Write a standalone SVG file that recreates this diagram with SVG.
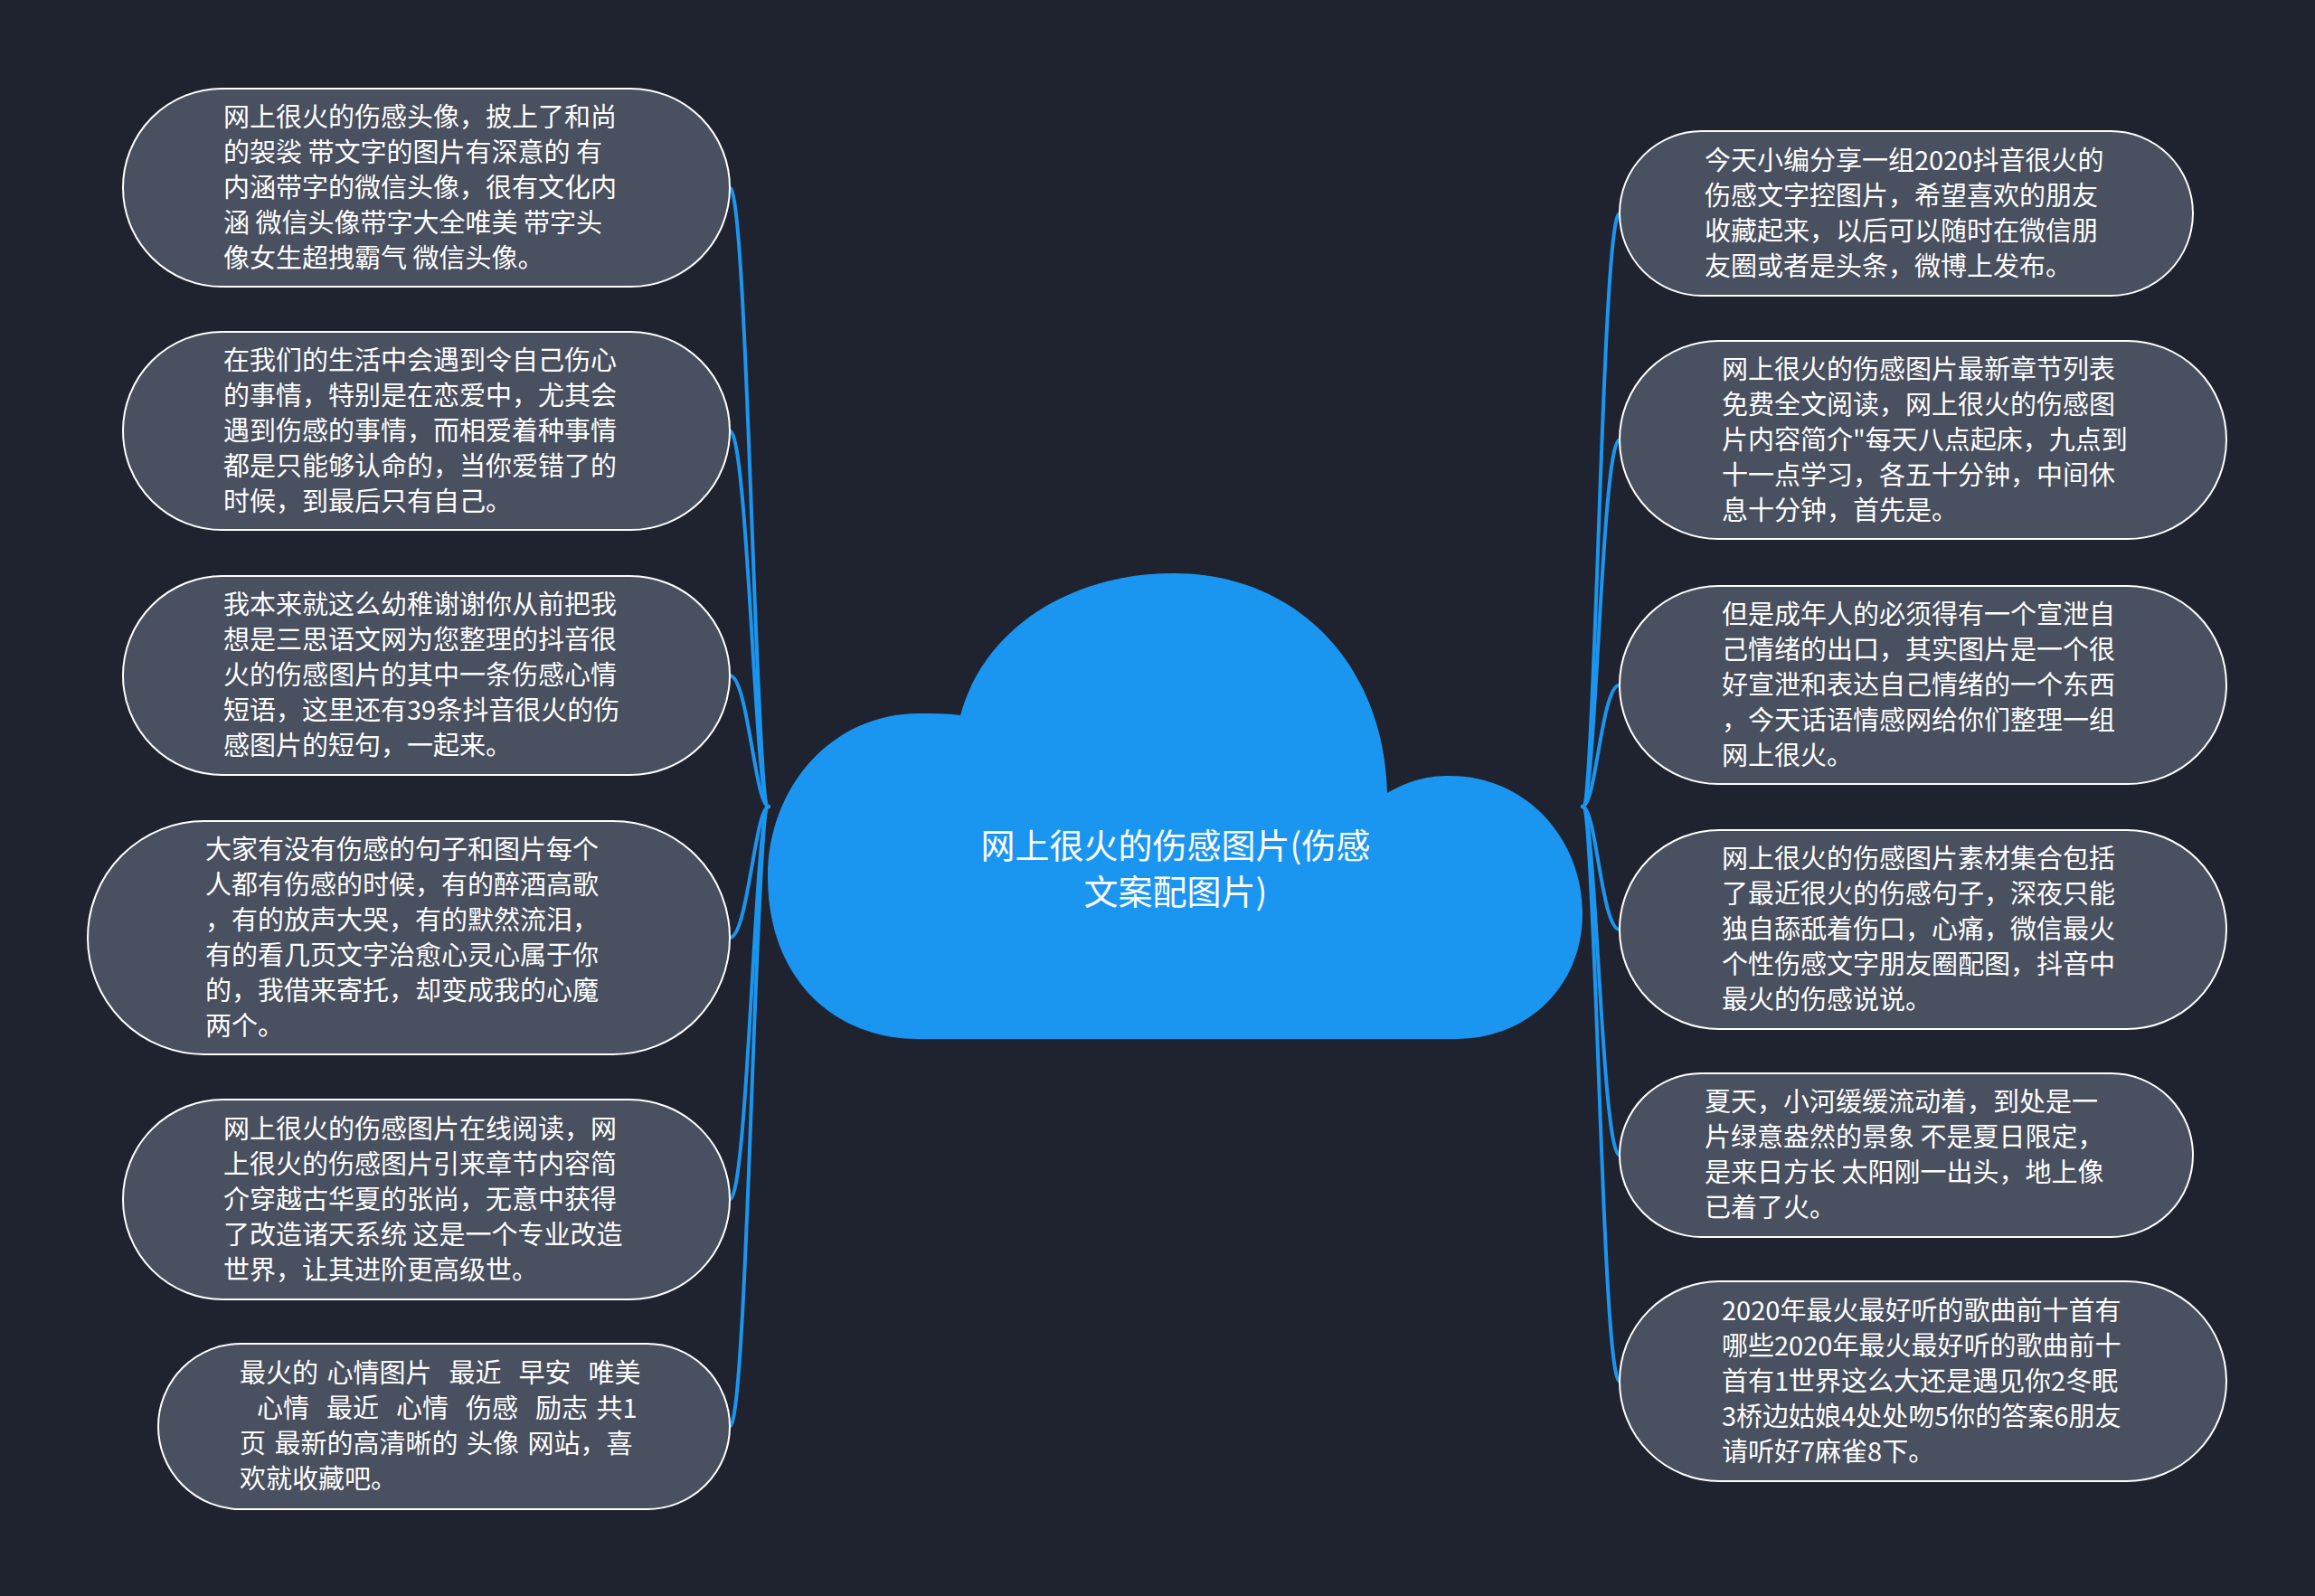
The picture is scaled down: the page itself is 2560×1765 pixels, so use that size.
<svg xmlns="http://www.w3.org/2000/svg" width="2560" height="1765" viewBox="0 0 2560 1765">
<style>
.bg{fill:#1f2330}
.node rect{fill:#495060;stroke:#ffffff;stroke-width:2}
.node text{fill:#ffffff;font-family:"Noto Sans CJK SC","Noto Sans",sans-serif;font-size:29px;white-space:pre}
.conn path{fill:none;stroke:#1b95ee;stroke-width:4;stroke-linecap:round}
.cloud path{fill:#1a96f0}
.cloud text{fill:#ffffff;font-family:"Noto Sans CJK SC","Noto Sans",sans-serif;font-size:38px;text-anchor:middle}
</style>
<rect class="bg" x="0" y="0" width="2560" height="1765"/>
<g id="connectors" class="conn">
<path d="M807 207.5 C827 207.5,835 892,850 892"/>
<path d="M807 476.5 C827 476.5,835 892,850 892"/>
<path d="M807 747 C827 747,835 892,850 892"/>
<path d="M807 1037 C827 1037,835 892,850 892"/>
<path d="M807 1326.5 C827 1326.5,835 892,850 892"/>
<path d="M807 1577.5 C827 1577.5,835 892,850 892"/>
<path d="M1750 892 C1765 892,1771 236,1791 236"/>
<path d="M1750 892 C1765 892,1771 486.5,1791 486.5"/>
<path d="M1750 892 C1765 892,1771 757.5,1791 757.5"/>
<path d="M1750 892 C1765 892,1771 1028,1791 1028"/>
<path d="M1750 892 C1765 892,1771 1277.5,1791 1277.5"/>
<path d="M1750 892 C1765 892,1771 1527.5,1791 1527.5"/>
</g>
<g id="center" class="cloud">
<path d="M1062 791 C1090 690,1190 634,1298 634 C1430 634,1530 730,1534 877 C1560 862,1580 858,1603 858 C1690 858,1750 930,1750 1010 C1750 1090,1690 1149,1610 1149 L1016 1149 C920 1149,849 1080,849 970 C849 870,920 789,1016 789 C1032 789,1048 789,1062 791 Z"/>
<text><tspan x="1300" y="949">网上很火的伤感图片(伤感</tspan><tspan x="1300" y="1000">文案配图片)</tspan></text>
</g>
<g id="L1" class="node">
<rect x="136" y="98" width="671" height="219" rx="109.5"/>
<text><tspan x="247" y="139.5">网上很火的伤感头像，披上了和尚</tspan><tspan x="247" y="178.5">的袈裟 带文字的图片有深意的 有</tspan><tspan x="247" y="217.5">内涵带字的微信头像，很有文化内</tspan><tspan x="247" y="256.5">涵 微信头像带字大全唯美 带字头</tspan><tspan x="247" y="295.5">像女生超拽霸气 微信头像。</tspan></text>
</g>
<g id="L2" class="node">
<rect x="136" y="367" width="671" height="219" rx="109.5"/>
<text><tspan x="247" y="408.5">在我们的生活中会遇到令自己伤心</tspan><tspan x="247" y="447.5">的事情，特别是在恋爱中，尤其会</tspan><tspan x="247" y="486.5">遇到伤感的事情，而相爱着种事情</tspan><tspan x="247" y="525.5">都是只能够认命的，当你爱错了的</tspan><tspan x="247" y="564.5">时候，到最后只有自己。</tspan></text>
</g>
<g id="L3" class="node">
<rect x="136" y="637" width="671" height="220" rx="110"/>
<text><tspan x="247" y="679">我本来就这么幼稚谢谢你从前把我</tspan><tspan x="247" y="718">想是三思语文网为您整理的抖音很</tspan><tspan x="247" y="757">火的伤感图片的其中一条伤感心情</tspan><tspan x="247" y="796">短语，这里还有39条抖音很火的伤</tspan><tspan x="247" y="835">感图片的短句，一起来。</tspan></text>
</g>
<g id="L4" class="node">
<rect x="97" y="908" width="710" height="258" rx="129"/>
<text><tspan x="227" y="949.5">大家有没有伤感的句子和图片每个</tspan><tspan x="227" y="988.5">人都有伤感的时候，有的醉酒高歌</tspan><tspan x="227" y="1027.5">，有的放声大哭，有的默然流泪，</tspan><tspan x="227" y="1066.5">有的看几页文字治愈心灵心属于你</tspan><tspan x="227" y="1105.5">的，我借来寄托，却变成我的心魔</tspan><tspan x="227" y="1144.5">两个。</tspan></text>
</g>
<g id="L5" class="node">
<rect x="136" y="1216" width="671" height="221" rx="110.5"/>
<text><tspan x="247" y="1258.5">网上很火的伤感图片在线阅读，网</tspan><tspan x="247" y="1297.5">上很火的伤感图片引来章节内容简</tspan><tspan x="247" y="1336.5">介穿越古华夏的张尚，无意中获得</tspan><tspan x="247" y="1375.5">了改造诸天系统 这是一个专业改造</tspan><tspan x="247" y="1414.5">世界，让其进阶更高级世。</tspan></text>
</g>
<g id="L6" class="node">
<rect x="175" y="1486" width="632" height="183" rx="91.5"/>
<text style="word-spacing:3px"><tspan x="265" y="1529">最火的 心情图片  最近  早安  唯美</tspan><tspan x="265" y="1568">  心情  最近  心情  伤感  励志 共1</tspan><tspan x="265" y="1607">页 最新的高清晰的 头像 网站，喜</tspan><tspan x="265" y="1646">欢就收藏吧。</tspan></text>
</g>
<g id="R1" class="node">
<rect x="1791" y="145" width="634" height="182" rx="91"/>
<text><tspan x="1885" y="187.5">今天小编分享一组2020抖音很火的</tspan><tspan x="1885" y="226.5">伤感文字控图片，希望喜欢的朋友</tspan><tspan x="1885" y="265.5">收藏起来，以后可以随时在微信朋</tspan><tspan x="1885" y="304.5">友圈或者是头条，微博上发布。</tspan></text>
</g>
<g id="R2" class="node">
<rect x="1791" y="377" width="671" height="219" rx="109.5"/>
<text><tspan x="1904" y="418.5">网上很火的伤感图片最新章节列表</tspan><tspan x="1904" y="457.5">免费全文阅读，网上很火的伤感图</tspan><tspan x="1904" y="496.5">片内容简介"每天八点起床，九点到</tspan><tspan x="1904" y="535.5">十一点学习，各五十分钟，中间休</tspan><tspan x="1904" y="574.5">息十分钟，首先是。</tspan></text>
</g>
<g id="R3" class="node">
<rect x="1791" y="648" width="671" height="219" rx="109.5"/>
<text><tspan x="1904" y="689.5">但是成年人的必须得有一个宣泄自</tspan><tspan x="1904" y="728.5">己情绪的出口，其实图片是一个很</tspan><tspan x="1904" y="767.5">好宣泄和表达自己情绪的一个东西</tspan><tspan x="1904" y="806.5">，今天话语情感网给你们整理一组</tspan><tspan x="1904" y="845.5">网上很火。</tspan></text>
</g>
<g id="R4" class="node">
<rect x="1791" y="918" width="671" height="220" rx="110"/>
<text><tspan x="1904" y="960">网上很火的伤感图片素材集合包括</tspan><tspan x="1904" y="999">了最近很火的伤感句子，深夜只能</tspan><tspan x="1904" y="1038">独自舔舐着伤口，心痛，微信最火</tspan><tspan x="1904" y="1077">个性伤感文字朋友圈配图，抖音中</tspan><tspan x="1904" y="1116">最火的伤感说说。</tspan></text>
</g>
<g id="R5" class="node">
<rect x="1791" y="1187" width="634" height="181" rx="90.5"/>
<text><tspan x="1885" y="1229">夏天，小河缓缓流动着，到处是一</tspan><tspan x="1885" y="1268">片绿意盎然的景象 不是夏日限定，</tspan><tspan x="1885" y="1307">是来日方长 太阳刚一出头，地上像</tspan><tspan x="1885" y="1346">已着了火。</tspan></text>
</g>
<g id="R6" class="node">
<rect x="1791" y="1417" width="671" height="221" rx="110.5"/>
<text><tspan x="1904" y="1459.5">2020年最火最好听的歌曲前十首有</tspan><tspan x="1904" y="1498.5">哪些2020年最火最好听的歌曲前十</tspan><tspan x="1904" y="1537.5">首有1世界这么大还是遇见你2冬眠</tspan><tspan x="1904" y="1576.5">3桥边姑娘4处处吻5你的答案6朋友</tspan><tspan x="1904" y="1615.5">请听好7麻雀8下。</tspan></text>
</g>
</svg>
